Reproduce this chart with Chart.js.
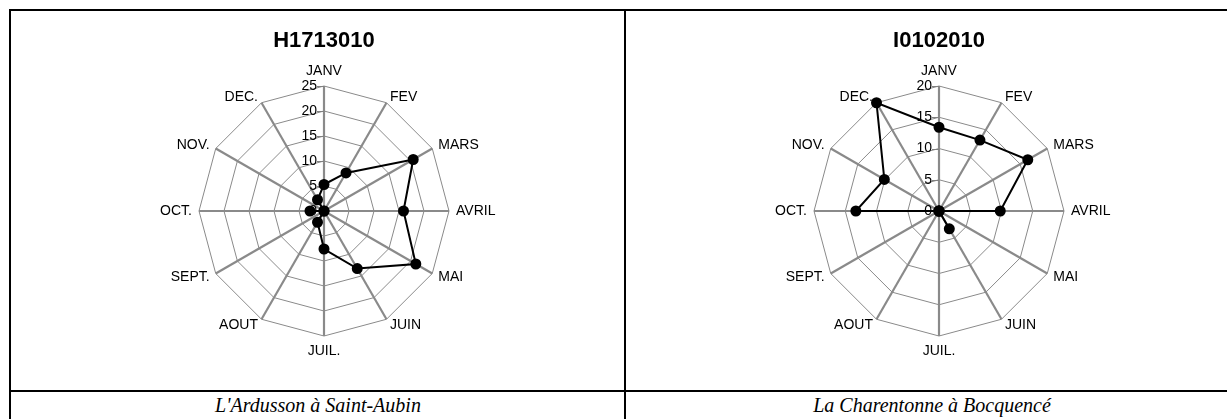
<!DOCTYPE html>
<html>
<head>
<meta charset="utf-8">
<script src="https://cdn.jsdelivr.net/npm/chart.js@4"></script>
<style>
  body { margin: 0; background: #fff; width: 1227px; height: 419px; overflow: hidden; position: relative; }
  .line { position: absolute; background: #000; }
  canvas { position: absolute; }
  .caption { position: absolute; top: 392px; width: 400px; text-align: center;
    font: italic 20px "Liberation Serif", "Times New Roman", serif; line-height: 27px; }
</style>
</head>
<body>
<div class="line" style="left:9px; top:9px; width:1240px; height:2px;"></div>
<div class="line" style="left:9px; top:9px; width:2px; height:420px;"></div>
<div class="line" style="left:624px; top:9px; width:2px; height:420px;"></div>
<div class="line" style="left:9px; top:390px; width:1240px; height:2px;"></div>

<canvas id="graph-h1713010" width="420" height="347" style="left:114px; top:15px;"></canvas>
<canvas id="graph-i0102010" width="420" height="347" style="left:729px; top:15px;"></canvas>

<div class="caption" style="left:118px;">L'Ardusson à Saint-Aubin</div>
<div class="caption" style="left:732px;">La Charentonne à Bocquencé</div>

<script>
/* global Chart */
const months = ["JANV", "FEV", "MARS", "AVRIL", "MAI", "JUIN", "JUIL.", "AOUT", "SEPT.", "OCT.", "NOV.", "DEC."];

// H1713010 - L'Ardusson à Saint-Aubin
const valuesH1713010 = [5.3, 8.8, 20.6, 15.9, 21.2, 13.3, 7.6, 2.6, 0, 2.8, 0, 2.6];
const ticksH1713010 = [0, 5, 10, 15, 20, 25];

// I0102010 - La Charentonne à Bocquencé
const valuesI0102010 = [13.4, 13.1, 16.4, 9.8, 0, 3.3, 0, 0, 0, 13.3, 10.1, 20];
const ticksI0102010 = [0, 5, 10, 15, 20];

const labelFont = '14px "Liberation Sans", Arial, sans-serif';

Chart.defaults.font.family = '"Liberation Sans", Arial, sans-serif';
Chart.defaults.color = "#000";

// value axis labels left of the vertical spoke + month labels next to spoke ends
const axisText = {
    id: "axisText",
    beforeDatasetsDraw(chart) {
        const scale = chart.scales.r;
        const ctx = chart.ctx;
        ctx.save();
        ctx.font = labelFont;
        ctx.fillStyle = "#000";
        ctx.strokeStyle = "#808080";
        ctx.lineWidth = 1;
        ctx.textBaseline = "middle";

        ctx.textAlign = "right";
        scale.ticks.forEach(tick => {
            const y = scale.yCenter - scale.getDistanceFromCenterForValue(tick.value);
            ctx.beginPath();
            ctx.moveTo(scale.xCenter - 7, Math.round(y) + 0.5);
            ctx.lineTo(scale.xCenter, Math.round(y) + 0.5);
            ctx.stroke();
            ctx.fillText(String(tick.value), scale.xCenter - 7, y);
        });

        chart.data.labels.forEach((label, i) => {
            const top = scale.getPointPosition(i, scale.drawingArea);
            const vertical = Math.abs(top.x - scale.xCenter) < 1;
            const pos = scale.getPointPosition(i, scale.drawingArea + (vertical ? 15 : 7));
            if (vertical) ctx.textAlign = "center";
            else ctx.textAlign = pos.x > scale.xCenter ? "left" : "right";
            ctx.fillText(label, pos.x, pos.y);
        });
        ctx.restore();
    }
};

function drawRadar(canvasId, title, values, tickValues) {
    return new Chart(document.getElementById(canvasId), {
        type: "radar",
        data: {
            labels: months,
            datasets: [{
                data: values,
                borderColor: "#000",
                borderWidth: 2,
                pointBackgroundColor: "#000",
                pointBorderColor: "#000",
                pointRadius: 4.5,
                fill: false,
                tension: 0,
                clip: false
            }]
        },
        options: {
            responsive: false,
            animation: false,
            devicePixelRatio: 1,
            layout: { padding: { bottom: 25.7 } },
            plugins: {
                legend: { display: false },
                tooltip: { enabled: false },
                title: {
                    display: true,
                    text: title,
                    color: "#000",
                    font: { size: 22, weight: "bold" },
                    padding: { top: 12.8, bottom: 31.5 }
                }
            },
            scales: {
                r: {
                    min: tickValues[0],
                    max: tickValues[tickValues.length - 1],
                    afterBuildTicks: scale => {
                        scale.ticks = tickValues.map(v => ({ value: v }));
                    },
                    ticks: { display: false },
                    grid: { color: "#8a8a8a", lineWidth: 1 },
                    angleLines: { color: "#8a8a8a", lineWidth: 2.2 },
                    pointLabels: { display: false }
                }
            }
        },
        plugins: [axisText]
    });
}

drawRadar("graph-h1713010", "H1713010", valuesH1713010, ticksH1713010);
drawRadar("graph-i0102010", "I0102010", valuesI0102010, ticksI0102010);
</script>
</body>
</html>
